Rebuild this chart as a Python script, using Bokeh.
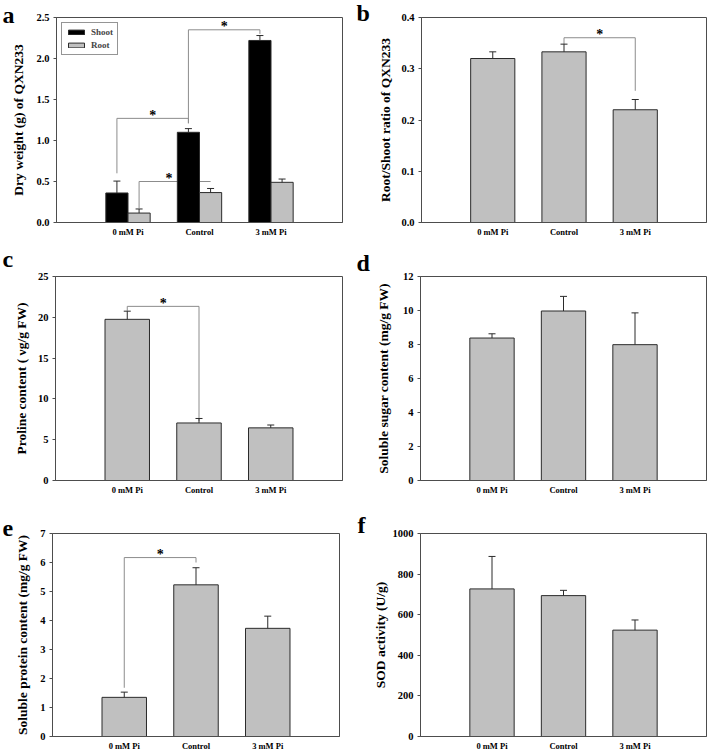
from bokeh.plotting import figure
from bokeh.layouts import column, row
from bokeh.models import (ColumnDataSource, Whisker, TeeHead, FixedTicker,
                          PrintfTickFormatter, Legend, LegendItem, Range1d)
from bokeh.core.properties import value
from bokeh.embed import file_html
from bokeh.resources import INLINE

# ---------------- data ----------------
categories = ["0 mM Pi", "Control", "3 mM Pi"]

# (a) dry weight of QXN233 (g)
shoot_dw = [0.36, 1.10, 2.22]
shoot_dw_err = [0.145, 0.045, 0.06]
root_dw = [0.115, 0.365, 0.49]
root_dw_err = [0.05, 0.05, 0.04]

# (b) root/shoot ratio
rs_ratio = [0.320, 0.333, 0.220]
rs_ratio_err = [0.013, 0.015, 0.020]

# (c) proline content
proline = [19.75, 7.05, 6.45]
proline_err = [1.0, 0.55, 0.35]

# (d) soluble sugar content
sugar = [8.38, 9.97, 7.99]
sugar_err = [0.25, 0.86, 1.87]

# (e) soluble protein content
protein = [1.35, 5.23, 3.73]
protein_err = [0.18, 0.59, 0.42]

# (f) SOD activity
sod = [727, 694, 524]
sod_err = [160, 26, 50]

ticks_a = [0.0, 0.5, 1.0, 1.5, 2.0, 2.5]
ticks_b = [0.0, 0.1, 0.2, 0.3, 0.4]
ticks_c = [0, 5, 10, 15, 20, 25]
ticks_d = [0, 2, 4, 6, 8, 10, 12]
ticks_e = [0, 1, 2, 3, 4, 5, 6, 7]
ticks_f = [0, 200, 400, 600, 800, 1000]

# significance brackets:
# (from cat, from series, to cat, to series, left foot, bar level, right foot, star position along bar)
sig_a = [("0 mM Pi", "Shoot", "Control", "Shoot", 0.60, 1.27, 1.21, 0.5),
         ("Control", "Shoot", "3 mM Pi", "Shoot", 1.21, 2.35, 2.30, 0.5),
         ("0 mM Pi", "Root", "Control", "Root", 0.175, 0.50, 0.50, 0.42)]
sig_b = [("Control", None, "3 mM Pi", None, 0.348, 0.3605, 0.257, 0.5)]
sig_c = [("0 mM Pi", None, "Control", None, 20.8, 21.34, 7.3, 0.5)]
sig_e = [("0 mM Pi", None, "Control", None, 1.68, 6.17, 6.0, 0.5)]

# ---------------- style ----------------
SERIF = "Liberation Serif"
FRAME = "#4d4d4d"
EDGE = "#2b2b2b"
GREY = "#c0c0c0"
BRACKET = "#8c8c8c"

cat_pos = {c: i + 1 for i, c in enumerate(categories)}
offsets = {"Shoot": -0.155, "Root": 0.155, None: 0.0}


def make_panel(width, height, borders, ymax, ticks, fmt, ylabel, letter,
               letter_off, letter_standoff, label_standoff):
    l, r, t, b = borders
    p = figure(width=width, height=height, x_range=Range1d(0, 4),
               y_range=Range1d(0, ymax), output_backend="svg",
               toolbar_location=None, min_border_left=l, min_border_right=r,
               min_border_top=t, min_border_bottom=b)
    p.xgrid.visible = False
    p.ygrid.visible = False
    p.outline_line_color = FRAME
    p.outline_line_alpha = 1.0
    p.outline_line_width = 1

    # panel letter as the figure title, pulled to the left of the frame
    p.title.text = letter
    p.title.align = "left"
    p.title.vertical_align = "top"
    p.title.offset = letter_off
    p.title.standoff = letter_standoff
    p.title.text_font = SERIF
    p.title.text_font_style = "bold"
    p.title.text_font_size = "24px"
    p.title.text_color = "black"

    xa = p.xaxis[0]
    xa.ticker = FixedTicker(ticks=list(cat_pos.values()))
    xa.major_label_overrides = {v: k for k, v in cat_pos.items()}
    xa.major_tick_out = 0
    xa.major_tick_in = 0
    xa.minor_tick_out = 0
    xa.minor_tick_in = 0
    xa.axis_line_color = FRAME
    xa.major_label_standoff = 4
    xa.major_label_text_font = SERIF
    xa.major_label_text_font_style = "bold"
    xa.major_label_text_font_size = "8.5px"
    xa.major_label_text_color = "black"

    ya = p.yaxis[0]
    ya.ticker = FixedTicker(ticks=ticks)
    ya.formatter = PrintfTickFormatter(format=fmt)
    ya.major_tick_out = 3
    ya.major_tick_in = 0
    ya.minor_tick_out = 0
    ya.minor_tick_in = 0
    ya.major_tick_line_color = FRAME
    ya.axis_line_color = FRAME
    ya.major_label_standoff = 4
    ya.major_label_text_font = SERIF
    ya.major_label_text_font_style = "bold"
    ya.major_label_text_font_size = "10.5px"
    ya.major_label_text_color = "black"
    ya.axis_label = ylabel
    ya.axis_label_text_font = SERIF
    ya.axis_label_text_font_style = "bold"
    ya.axis_label_text_font_size = "13.5px"
    ya.axis_label_text_color = "black"
    ya.axis_label_standoff = label_standoff
    return p


def add_bars(p, vals, errs, series=None, color=GREY, width=0.62):
    xs = [cat_pos[c] + offsets[series] for c in categories]
    src = ColumnDataSource(dict(x=xs, top=vals,
                                upper=[v + e for v, e in zip(vals, errs)]))
    r = p.vbar(x="x", top="top", bottom=0, width=width, source=src,
               fill_color=color, line_color=EDGE, line_width=1)
    w = Whisker(base="x", lower="top", upper="upper", source=src,
                dimension="height", line_color=EDGE, line_width=1,
                lower_head=None,
                upper_head=TeeHead(size=7, line_color=EDGE, line_width=1),
                level="annotation")
    p.add_layout(w)
    return r


def add_sig_lines(p, sigs):
    xs, ys = [], []
    for c0, s0, c1, s1, f0, lvl, f1, _ in sigs:
        x0 = cat_pos[c0] + offsets[s0]
        x1 = cat_pos[c1] + offsets[s1]
        xs.append([x0, x0, x1, x1])
        ys.append([f0, lvl, lvl, f1])
    p.multi_line(xs=xs, ys=ys, line_color=BRACKET, line_width=1)


def add_sig_stars(p, sigs):
    sx, sy = [], []
    for c0, s0, c1, s1, f0, lvl, f1, frac in sigs:
        x0 = cat_pos[c0] + offsets[s0]
        x1 = cat_pos[c1] + offsets[s1]
        sx.append(x0 + (x1 - x0) * frac)
        sy.append(lvl)
    p.text(x=sx, y=sy, text=["*"] * len(sx), text_font=value(SERIF),
           text_font_style="bold", text_font_size="14px", text_color="black",
           text_align="center", text_baseline="middle", y_offset=-3)


# ---------------- panels ----------------
pa = make_panel(354, 240, (56, 12, 17, 17), 2.5, ticks_a, "%.1f",
                "Dry weight (g) of QXN233", "a", -54, -25.0, 7)
add_sig_lines(pa, sig_a)
r_sh = add_bars(pa, shoot_dw, shoot_dw_err, "Shoot", "black", 0.31)
r_rt = add_bars(pa, root_dw, root_dw_err, "Root", GREY, 0.31)
add_sig_stars(pa, sig_a)
leg = Legend(items=[LegendItem(label="Shoot", renderers=[r_sh]),
                    LegendItem(label="Root", renderers=[r_rt])],
             location="top_left", margin=5, padding=4, spacing=3,
             glyph_width=20, glyph_height=6, label_height=10,
             label_standoff=5, border_line_color=EDGE, border_line_width=1,
             label_text_font=SERIF, label_text_font_style="bold",
             label_text_font_size="9px", background_fill_alpha=1)
pa.add_layout(leg)

pb = make_panel(355, 240, (67, 3, 16, 18), 0.4, ticks_b, "%.1f",
                "Root/Shoot ratio of QXN233", "b", -65, -22.4, 5)
add_sig_lines(pb, sig_b)
add_bars(pb, rs_ratio, rs_ratio_err)
add_sig_stars(pb, sig_b)

pc = make_panel(354, 260, (55, 12, 35, 20), 25, ticks_c, "%d",
                "Proline content ( νg/g FW)", "c", -53, 6.0, 6)
add_sig_lines(pc, sig_c)
add_bars(pc, proline, proline_err)
add_sig_stars(pc, sig_c)

pd_ = make_panel(355, 260, (66, 3, 36, 19), 12, ticks_d, "%d",
                 "Soluble sugar content (mg/g FW)", "d", -64, -2.0, 9)
add_bars(pd_, sugar, sugar_err)

pe = make_panel(354, 253, (52, 15, 32, 15), 7, ticks_e, "%d",
                "Soluble protein content (mg/g FW)", "e", -50, -8.0, 7)
add_sig_lines(pe, sig_e)
add_bars(pe, protein, protein_err)
add_sig_stars(pe, sig_e)

pf = make_panel(355, 253, (66, 3, 33, 15), 1000, ticks_f, "%d",
                "SOD activity (U/g)", "f", -63, -13.0, 2)
add_bars(pf, sod, sod_err)

layout = column(row(pa, pb), row(pc, pd_), row(pe, pf))

open("out.html", "w").write(file_html(layout, INLINE))
